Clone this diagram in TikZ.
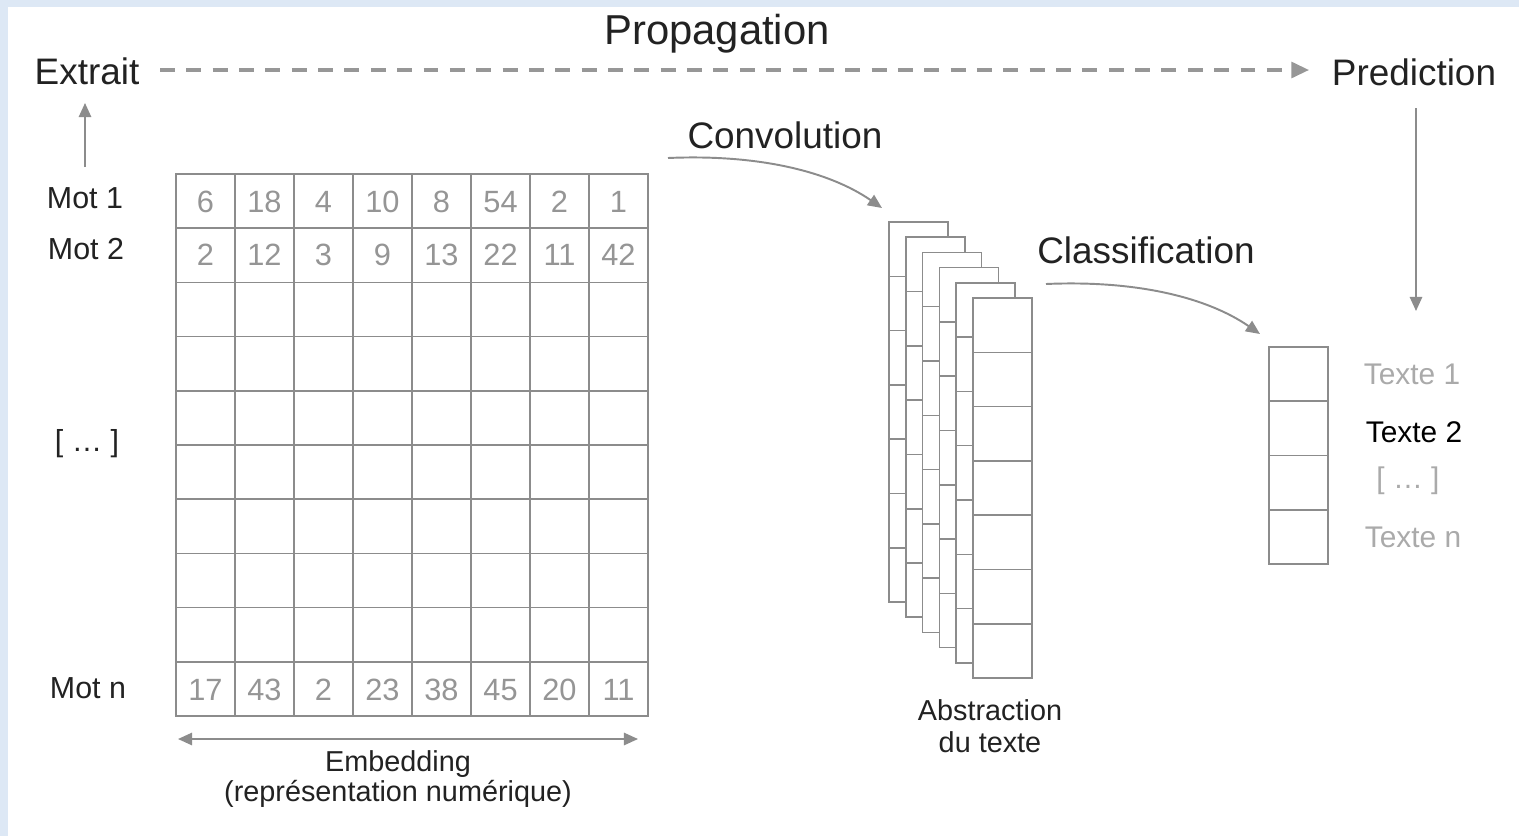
\documentclass[tikz,border=0pt]{standalone}
\usepackage{fontspec}
\setmainfont{Liberation Sans}
\usetikzlibrary{arrows.meta}
\definecolor{framebg}{HTML}{DDE8F5}
\definecolor{linegray}{HTML}{8C8C8C}
\definecolor{numgray}{HTML}{959595}
\definecolor{inkdark}{HTML}{222222}
\tikzset{
  bigtitle/.style={font=\fontsize{23.8}{28}\selectfont, text=inkdark, inner sep=0pt},
  steplabel/.style={font=\fontsize{21}{25}\selectfont, text=inkdark, inner sep=0pt},
  rowlabel/.style={font=\fontsize{17.3}{20}\selectfont, text=inkdark, inner sep=0pt},
  cellnum/.style={font=\fontsize{17.5}{20}\selectfont, text=numgray, inner sep=0pt},
  caption/.style={font=\fontsize{16.4}{19}\selectfont, text=inkdark, inner sep=0pt},
  outlabel/.style={font=\fontsize{17}{20}\selectfont, text=numgray!80, inner sep=0pt},
  gridline/.style={draw=linegray, line width=0.9pt},
  flowarrow/.style={draw=linegray, line width=1.1pt, -{Triangle[length=8pt,width=7pt]}},
  spanarrow/.style={draw=linegray, line width=1.1pt, {Triangle[length=8pt,width=7pt]}-{Triangle[length=8pt,width=7pt]}},
  proparrow/.style={draw=linegray!90, line width=1.8pt, dash pattern=on 8.5pt off 6.5pt, -{Triangle[length=10pt,width=9pt]}}
}
\begin{document}
\begin{tikzpicture}[x=0.02cm, y=-0.02cm]
  \useasboundingbox (0,0) rectangle (1519,836);
  % page frame
  \fill[framebg] (0,0) rectangle (1519,836);
  \fill[white] (8,7) rectangle (1519,836);

  % top labels
  \node[bigtitle, anchor=base] (prop) at (717,44) {Propagation};
  \node[steplabel] (extrait) at (87,71) {Extrait};
  \node[steplabel] (pred) at (1414,72) {Prediction};
  \node[steplabel] (conv) at (785,135) {Convolution};
  \node[steplabel] (classif) at (1146,250) {Classification};

  % propagation arrow
  \coordinate (propstart) at (160,70);
  \coordinate (propend) at (1309,70);
  \draw[proparrow] (propstart) -- (propend);

  % word labels
  \node[rowlabel] (mot1) at (85,198) {Mot 1};
  \node[rowlabel] (mot2) at (86,249) {Mot 2};
  \node[rowlabel, anchor=base] (motdots) at (87,451) {[ … ]};
  \node[rowlabel] (motn) at (88,688) {Mot n};

  % arrow from the words up to the extract
  \coordinate (extfoot) at (85,167);
  \coordinate (exthead) at (85,103);
  \draw[flowarrow] (extfoot) -- (exthead);

  % embedding matrix: 8 columns, 10 rows
  \draw[gridline] (176,174) rectangle (648,716);
  \foreach \i in {1,...,7} \draw[gridline] ({176+59*\i},174) -- ({176+59*\i},716);
  \foreach \j in {1,...,9} \draw[gridline] (176,{174+54.2*\j}) -- (648,{174+54.2*\j});
  \foreach \v [count=\i] in {6,18,4,10,8,54,2,1}
    \node[cellnum] (ra\i) at ({176+59*\i-29.5},202) {\v};
  \foreach \v [count=\i] in {2,12,3,9,13,22,11,42}
    \node[cellnum] (rb\i) at ({176+59*\i-29.5},255) {\v};
  \foreach \v [count=\i] in {17,43,2,23,38,45,20,11}
    \node[cellnum] (rn\i) at ({176+59*\i-29.5},690) {\v};

  % embedding span arrow and caption
  \coordinate (embleft) at (178,739);
  \coordinate (embright) at (638,739);
  \draw[spanarrow] (embleft) -- (embright);
  \node[caption, anchor=base] (emb) at (398,771) {Embedding};
  \node[caption, anchor=base] (embsub) at (398,801) {(représentation numérique)};

  % convolution arrow
  \coordinate (convfrom) at (668,158);
  \coordinate (convto) at (882,208);
  \draw[flowarrow] (convfrom) .. controls (760,154) and (830,172) .. (convto);

  % stack of feature maps, back to front
  \foreach \k in {0,...,5} {
    \pgfmathsetmacro\lx{889+16.8*\k}
    \pgfmathsetmacro\ty{222+15.2*\k}
    \draw[gridline, fill=white] (\lx,\ty) rectangle ++(59,380);
    \foreach \j in {1,...,6} \draw[gridline] (\lx,{\ty+54.3*\j}) -- ++(59,0);
  }
  \node[caption] (abs1) at (990,710) {Abstraction};
  \node[caption] (abs2) at (990,742) {du texte};

  % classification arrow
  \coordinate (clsfrom) at (1046,284);
  \coordinate (clsto) at (1260,334);
  \draw[flowarrow] (clsfrom) .. controls (1138,280) and (1208,298) .. (clsto);

  % prediction arrow
  \coordinate (predfoot) at (1416,108);
  \coordinate (predhead) at (1416,311);
  \draw[flowarrow] (predfoot) -- (predhead);

  % output vector
  \draw[gridline] (1269,347) rectangle (1328,564);
  \foreach \j in {1,2,3} \draw[gridline] (1269,{347+54.25*\j}) -- (1328,{347+54.25*\j});
  \node[outlabel] (t1) at (1412,374) {Texte 1};
  \node[outlabel, text=black] (t2) at (1414,432) {Texte 2};
  \node[outlabel, anchor=base] (tdots) at (1408,488) {[ … ]};
  \node[outlabel] (tn) at (1413,537) {Texte n};
\end{tikzpicture}
\end{document}
